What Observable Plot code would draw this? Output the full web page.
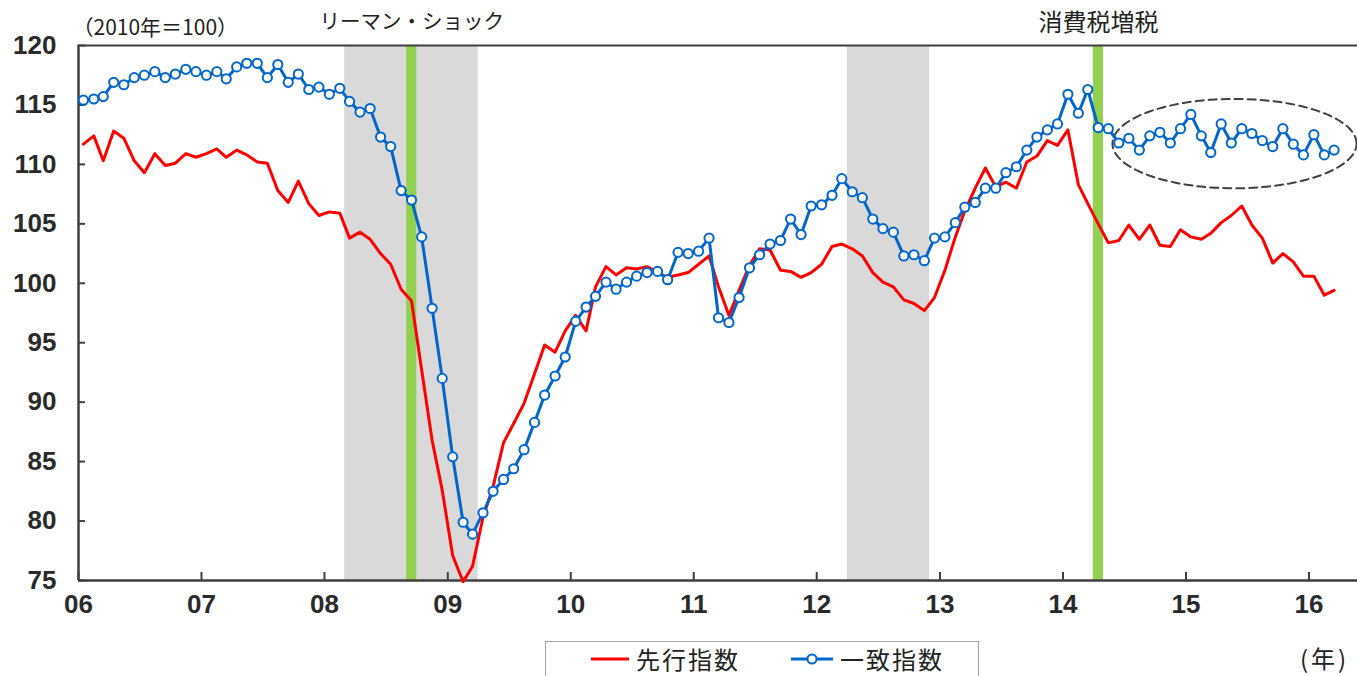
<!DOCTYPE html>
<html><head><meta charset="utf-8">
<script src="https://cdn.jsdelivr.net/npm/d3@7"></script>
<script src="https://cdn.jsdelivr.net/npm/@observablehq/plot@0.6"></script>
<style>
html,body{margin:0;padding:0;background:#fff;overflow:hidden;width:1357px;height:676px;}
#wrap{position:relative;width:1357px;height:676px;}
#legend{position:absolute;left:545px;top:641px;width:434px;height:35px;border:1px solid #A6A6A6;border-bottom:none;box-sizing:border-box;
  font-family:"Noto Sans CJK JP",sans-serif;font-size:24px;color:#222;}
#legend .item{position:absolute;top:0;height:34px;display:flex;align-items:center;line-height:34px;}
#legend span{letter-spacing:2px;}
#unit{position:absolute;left:1300px;top:641px;font-family:"Noto Sans CJK JP",sans-serif;font-size:24px;line-height:34px;letter-spacing:3px;color:#222;}
</style></head><body><div id="wrap"><div id="chart"></div>
<div id="legend"></div><div id="unit">(年)</div></div>
<script>
// ---- data (monthly, Jan 2006 – Mar 2016) ----
const seriesNames = ["先行指数", "一致指数"];
const leading = [
  111.7,112.4,110.3,112.8,112.2,110.3,109.3,110.9,109.9,110.1,110.9,110.6,
  110.9,111.3,110.6,111.2,110.8,110.2,110.1,107.8,106.8,108.6,106.7,105.7,
  106.0,105.9,103.8,104.3,103.7,102.5,101.6,99.5,98.5,92.7,86.8,82.6,
  77.1,74.9,76.2,80.3,82.9,86.6,88.2,89.9,92.4,94.8,94.2,96.0,
  97.3,96.0,99.7,101.4,100.7,101.3,101.2,101.4,100.9,100.5,100.7,100.9,
  101.6,102.3,99.7,97.3,99.4,101.5,102.9,102.8,101.1,101.0,100.5,100.9,
  101.6,103.1,103.3,102.9,102.3,100.9,100.1,99.7,98.6,98.3,97.7,98.8,
  101.1,103.9,106.1,108.0,109.7,108.1,108.5,108.0,110.2,110.7,112.0,111.6,
  112.9,108.3,106.7,105.0,103.4,103.6,104.9,103.7,104.9,103.2,103.1,104.5,
  103.9,103.7,104.2,105.1,105.7,106.5,104.9,103.8,101.7,102.5,101.8,100.6,
  100.6,99.0,99.4
];
const coincident = [
  115.4,115.5,115.7,116.9,116.7,117.3,117.5,117.8,117.3,117.6,118.0,117.8,
  117.5,117.8,117.2,118.2,118.5,118.5,117.3,118.4,116.9,117.6,116.3,116.5,
  115.9,116.4,115.3,114.4,114.7,112.3,111.5,107.8,107.0,103.9,97.9,92.0,
  85.4,79.9,78.9,80.7,82.5,83.5,84.4,86.0,88.3,90.6,92.2,93.8,
  96.8,98.0,98.9,100.1,99.5,100.1,100.6,100.9,101.0,100.3,102.6,102.5,
  102.7,103.8,97.1,96.7,98.8,101.3,102.4,103.3,103.6,105.4,104.1,106.5,
  106.6,107.4,108.8,107.7,107.2,105.4,104.6,104.3,102.3,102.4,101.9,103.8,
  103.9,105.1,106.4,106.8,108.0,108.0,109.3,109.8,111.2,112.3,112.9,113.4,
  115.9,114.3,116.3,113.1,113.0,111.8,112.2,111.2,112.4,112.7,111.8,113.0,
  114.2,112.4,111.0,113.4,111.8,113.0,112.6,112.0,111.5,113.0,111.7,110.8,
  112.5,110.8,111.2
];
const yTicks = [75,80,85,90,95,100,105,110,115,120];
const xTickLabels = ["06","07","08","09","10","11","12","13","14","15","16"];
const recessions = [{start:"2008-03", end:"2009-04"}, {start:"2012-04", end:"2012-12"}];
const events = [{label:"リーマン・ショック", start:"2008-09", end:"2008-10"}, {label:"消費税増税", start:"2014-04", end:"2014-05"}];
const baseLabel = "（2010年＝100）";
// annotation ellipse around the recent coincident index (data units)
const highlight = {center:"2015-05-25", value:111.75, halfMonths:11.9, halfValue:3.76};

// ---- build ----
const toDate = (y, m, d = 1) => new Date(Date.UTC(y, m, d));
const parseYM = s => { const [y, m] = s.split("-").map(Number); return toDate(y, m - 1); };
const data = leading.map((v, i) => ({date: new Date(Date.UTC(2006, i, 15, 12)), leading: v, coincident: coincident[i]}));
const yearTicks = xTickLabels.map((_, i) => toDate(2006 + i, 0, 1));
const xDomain = [toDate(2006, 0, 1), toDate(2016, 4, 24)];

const monthMs = 30.44 * 24 * 3600 * 1000;
const hc = new Date(highlight.center + "T00:00:00Z").getTime();
const ellipse = d3.range(0, 361, 3).map(a => {
  const t = a * Math.PI / 180;
  return {x: new Date(hc + Math.cos(t) * highlight.halfMonths * monthMs), y: highlight.value + Math.sin(t) * highlight.halfValue};
});

const numFont = '"Liberation Sans Narrow","Arial Narrow","Liberation Sans",sans-serif';
const jpFont = '"Noto Sans CJK JP",sans-serif';
const W = 1357, H = 625, mL = 78, mR = 0, mT = 45, mB = 45;

const chart = Plot.plot({
  width: W, height: H,
  marginLeft: mL, marginRight: mR, marginTop: mT, marginBottom: mB,
  x: {type: "utc", domain: xDomain},
  y: {domain: [75, 120]},
  style: {background: "white", overflow: "visible", fontFamily: numFont},
  marks: [
    Plot.rect(recessions, {x1: d => parseYM(d.start), x2: d => parseYM(d.end), fill: "#D9D9D9"}),
    Plot.rect(events, {x1: d => parseYM(d.start), x2: d => parseYM(d.end), fill: "#92D050"}),
    Plot.ruleY([120], {stroke: "#3f3f3f", strokeWidth: 2}),
    Plot.tickY(yTicks, {y: d => d, insetRight: W - mL - mR - 7, stroke: "#3f3f3f", strokeWidth: 2}),
    Plot.tickX(yearTicks, {x: d => d, insetTop: H - mT - mB - 8, stroke: "#3f3f3f", strokeWidth: 2}),
    Plot.ruleX([xDomain[0]], {stroke: "#3f3f3f", strokeWidth: 2.5}),
    Plot.ruleY([75], {stroke: "#3f3f3f", strokeWidth: 2.5}),
    Plot.axisY({ticks: yTicks, tickSize: 0, tickPadding: 22, label: null, fontSize: 26, fontWeight: "bold", fill: "#2a2a2a"}),
    Plot.axisX({ticks: yearTicks, tickSize: 0, tickPadding: 14, label: null, fontSize: 26, fontWeight: "bold", fill: "#2a2a2a",
      tickFormat: d => xTickLabels[d.getUTCFullYear() - 2006]}),
    Plot.line(ellipse, {x: "x", y: "y", stroke: "#404040", strokeWidth: 2, strokeDasharray: "8,5"}),
    Plot.line(data, {x: "date", y: "leading", stroke: "#FF0000", strokeWidth: 3}),
    Plot.line(data, {x: "date", y: "coincident", stroke: "#0066CC", strokeWidth: 3}),
    Plot.dot(data, {x: "date", y: "coincident", r: 4.6, fill: "white", stroke: "#0066CC", strokeWidth: 2}),
    Plot.text(events, {x: d => new Date((parseYM(d.start).getTime() + parseYM(d.end).getTime()) / 2), y: () => 121.9,
      text: "label", fontSize: d => d.label.length > 6 ? 20.5 : 24, fontFamily: jpFont, fill: "#222"}),
    Plot.text([baseLabel], {frameAnchor: "top-left", dx: -6, dy: -25, text: d => d, textAnchor: "start",
      fontSize: 21, fontFamily: jpFont, fill: "#222"})
  ]
});
document.getElementById("chart").appendChild(chart);

// ---- legend ----
const legend = document.getElementById("legend");
legend.innerHTML =
  `<div class="item" style="left:44px"><svg width="40" height="12"><line x1="1" x2="39" y1="6" y2="6" stroke="#FF0000" stroke-width="3"/></svg><span style="margin-left:6px">${seriesNames[0]}</span></div>` +
  `<div class="item" style="left:244px"><svg width="44" height="14"><line x1="1" x2="43" y1="7" y2="7" stroke="#0066CC" stroke-width="3"/><circle cx="22" cy="7" r="4.6" fill="white" stroke="#0066CC" stroke-width="2"/></svg><span style="margin-left:6px">${seriesNames[1]}</span></div>`;
</script></body></html>
